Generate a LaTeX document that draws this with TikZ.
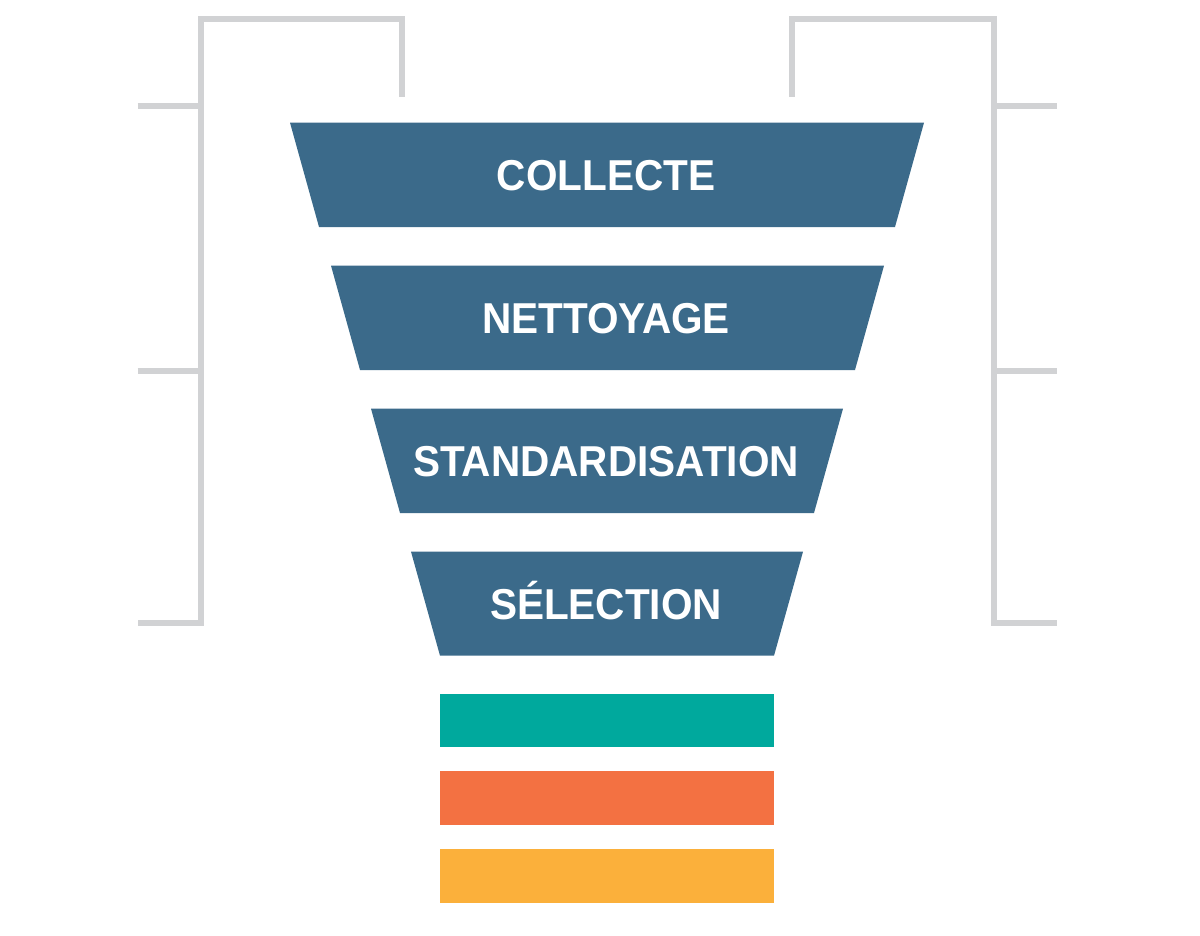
\documentclass[tikz,border=0pt]{standalone}
\usepackage{fontspec}
\newfontfamily\stagefont{Liberation Sans}[FakeStretch=0.938]
\definecolor{stageblue}{RGB}{59,106,138}
\definecolor{bracketgray}{RGB}{209,210,212}
\definecolor{barteal}{RGB}{0,169,157}
\definecolor{barorange}{RGB}{243,113,66}
\definecolor{baryellow}{RGB}{251,176,59}
\begin{document}
\begin{tikzpicture}[x=0.02cm, y=-0.02cm,
    bracket/.style={draw=bracketgray, line width=0.12cm},
    stage/.style={fill=stageblue},
    stagelabel/.style={anchor=base, text=white, font=\stagefont\bfseries\fontsize{24.6pt}{28pt}\selectfont, inner sep=0pt},
    bar/.style={minimum width=6.68cm, minimum height=1.066cm, inner sep=0pt, anchor=north west}]
    \useasboundingbox (0,0) rectangle (1200,936);

    % brackets
    \draw[bracket] (401.7,96.7) -- (401.7,19) -- (200.7,19) -- (200.7,623) -- (137.7,623);
    \draw[bracket] (137.7,105.7) -- (200.7,105.7);
    \draw[bracket] (137.7,371) -- (200.7,371);
    \draw[bracket] (792.3,96.7) -- (792.3,19) -- (993.7,19) -- (993.7,623) -- (1056.7,623);
    \draw[bracket] (993.7,105.7) -- (1056.7,105.7);
    \draw[bracket] (993.7,371) -- (1056.7,371);

    % funnel stages
    \fill[stage] (290,122.7) -- (924,122.7) -- (895,227) -- (319,227) -- cycle;
    \fill[stage] (331,265.7) -- (884,265.7) -- (855,370) -- (360,370) -- cycle;
    \fill[stage] (371,408.7) -- (843,408.7) -- (814,513) -- (400,513) -- cycle;
    \fill[stage] (411,551.7) -- (803,551.7) -- (774,655.7) -- (440,655.7) -- cycle;

    \node[stagelabel] (collecte) at (606,190.5) {COLLECTE};
    \node[stagelabel] (nettoyage) at (606,333.5) {NETTOYAGE};
    \node[stagelabel] (standard) at (606,476.7) {STANDARDISATION};
    \node[stagelabel] (selection) at (606,619.7) {SÉLECTION};

    % output bars
    \node[bar, fill=barteal] (teal) at (440,693.3) {};
    \node[bar, fill=barorange] (orange) at (440,771) {};
    \node[bar, fill=baryellow] (yellow) at (440,849) {};
\end{tikzpicture}
\end{document}
